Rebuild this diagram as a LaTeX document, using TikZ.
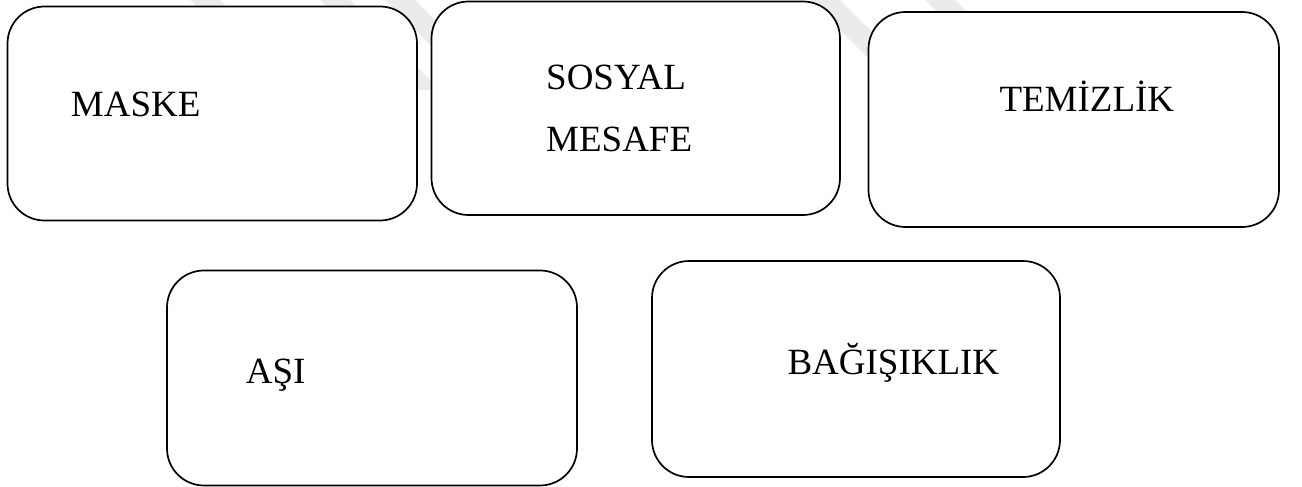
\documentclass[tikz,border=0pt]{standalone}
\usepackage{fontspec}
\setmainfont{Liberation Serif}
\begin{document}
\begin{tikzpicture}[x=1pt,y=-1pt,
  box/.style={draw=black, line width=1.7pt, fill=white, rounded corners=37pt, inner sep=0pt},
  lbl/.style={anchor=base west, inner sep=0pt, font=\fontsize{37}{44}\selectfont},
  wm/.style={fill=black!8, draw=none}]
\useasboundingbox (0,0) rectangle (1302,487);
% faint watermark bands
\foreach \x in {190,320,385,810,925}{
  \fill[wm] (\x,0) -- (\x+30,0) -- (\x+120,90) -- (\x+90,90) -- cycle;
}
% boxes
\node[box, minimum width=409.5pt, minimum height=214pt] (b1) at (212.25,113.5) {};
\node[box, minimum width=408.5pt, minimum height=213.5pt] (b2) at (635.75,108.25) {};
\node[box, minimum width=410.5pt, minimum height=215pt] (b3) at (1073.75,119.5) {};
\node[box, minimum width=410pt, minimum height=215pt] (b4) at (372,378) {};
\node[box, minimum width=408pt, minimum height=216pt] (b5) at (856,369) {};
% labels
\node[lbl] (t1) at (70.7,116.7) {MASKE};
\node[lbl] (t2a) at (546,89.3) {SOSYAL};
\node[lbl] (t2b) at (546,151.7) {MESAFE};
\node[lbl] (t3) at (999.3,111.7) {TEMİZLİK};
\node[lbl] (t4) at (245.7,383.3) {AŞI};
\node[lbl] (t5) at (787.3,374) {BAĞIŞIKLIK};
\end{tikzpicture}
\end{document}
